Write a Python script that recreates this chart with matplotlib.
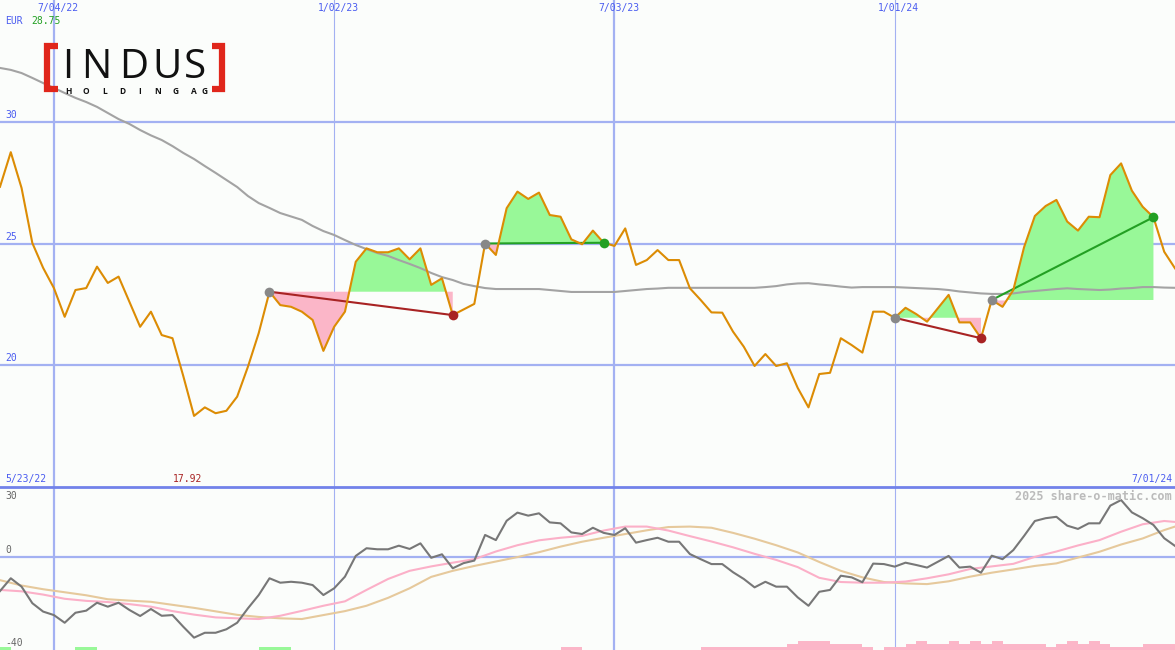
import matplotlib
matplotlib.use('Agg')
import matplotlib.pyplot as plt
import matplotlib.lines as mlines
import numpy as np
import pandas as pd

# ---- data (weekly) ----
start_date = '2022-05-30'
n_weeks = 110

price = [27.33, 28.75, 27.28, 25.02, 24.00, 23.17, 21.99, 23.09, 23.17, 24.05,
         23.38, 23.64, 22.61, 21.58, 22.20, 21.24, 21.11, 19.56, 17.92, 18.27,
         18.03, 18.13, 18.71, 19.94, 21.32, 23.02, 22.47, 22.40, 22.20, 21.86,
         20.59, 21.58, 22.20, 24.25, 24.80, 24.64, 24.64, 24.80, 24.35, 24.80,
         23.30, 23.57, 22.06, 22.29, 22.52, 25.00, 24.53, 26.45, 27.13, 26.83,
         27.09, 26.17, 26.10, 25.17, 24.97, 25.53, 25.03, 24.90, 25.62, 24.12,
         24.32, 24.73, 24.32, 24.32, 23.16, 22.68, 22.17, 22.16, 21.38, 20.76,
         19.97, 20.46, 19.97, 20.08, 19.07, 18.27, 19.64, 19.69, 21.11, 20.83,
         20.52, 22.20, 22.20, 21.95, 22.36, 22.10, 21.79, 22.34, 22.89, 21.76,
         21.76, 21.11, 22.68, 22.40, 23.09, 24.85, 26.13, 26.54, 26.79, 25.90,
         25.53, 26.10, 26.08, 27.81, 28.29, 27.17, 26.51, 26.08, 24.66, 23.98]

ma_long = [32.21, 32.13, 32.00, 31.80, 31.59, 31.39, 31.18, 30.98, 30.81, 30.61,
           30.36, 30.11, 29.91, 29.66, 29.44, 29.25, 29.00, 28.72, 28.47, 28.18,
           27.90, 27.61, 27.32, 26.95, 26.66, 26.46, 26.25, 26.11, 25.97, 25.72,
           25.51, 25.35, 25.14, 24.94, 24.77, 24.61, 24.49, 24.32, 24.16, 23.99,
           23.79, 23.62, 23.50, 23.34, 23.25, 23.17, 23.13, 23.13, 23.13, 23.13,
           23.13, 23.09, 23.05, 23.01, 23.01, 23.01, 23.01, 23.01, 23.05, 23.09,
           23.13, 23.15, 23.18, 23.18, 23.18, 23.18, 23.18, 23.18, 23.18, 23.18,
           23.18, 23.21, 23.25, 23.32, 23.36, 23.37, 23.32, 23.28, 23.23, 23.19,
           23.21, 23.21, 23.21, 23.21, 23.19, 23.17, 23.15, 23.13, 23.09, 23.03,
           22.99, 22.95, 22.93, 22.93, 22.95, 23.01, 23.05, 23.09, 23.13, 23.16,
           23.13, 23.11, 23.09, 23.11, 23.15, 23.17, 23.21, 23.21, 23.19, 23.18]

# trades: entry / exit week index
trade_entry = [25, 45, 83, 92]
trade_exit = [42, 56, 91, 107]

# lower panel oscillator
osc = [-14.7, -9.2, -12.8, -19.9, -23.5, -25.0, -28.3, -24.0, -23.1, -19.7,
       -21.4, -19.7, -22.8, -25.4, -22.4, -25.3, -25.0, -30.0, -34.7, -32.6,
       -32.6, -31.1, -28.3, -22.1, -16.4, -9.2, -11.1, -10.7, -11.1, -12.1,
       -16.4, -13.5, -8.5, 0.4, 3.7, 3.25, 3.25, 4.8, 3.4, 5.8,
       -0.4, 1.1, -4.9, -2.7, -1.6, 9.4, 7.2, 15.5, 19.0, 17.7,
       18.7, 14.8, 14.4, 10.5, 9.8, 12.5, 10.3, 9.4, 12.3, 6.1,
       7.2, 8.2, 6.5, 6.5, 1.2, -1.0, -3.1, -3.1, -6.6, -9.5,
       -13.1, -10.7, -12.8, -12.8, -17.4, -21.0, -15.0, -14.2, -8.1, -8.8,
       -10.9, -2.9, -3.1, -4.2, -2.5, -3.5, -4.6, -2.1, 0.4, -4.6,
       -4.2, -6.8, 0.5, -1.0, 2.9, 9.0, 15.4, 16.6, 17.2, 13.4,
       12.0, 14.4, 14.4, 22.0, 24.4, 19.1, 16.6, 13.7, 8.0, 4.7]

# smoothed oscillator lines, sampled every second week (+ last week)
smooth_weeks = list(range(0, 110, 2)) + [109]
osc_fast = [-14.2, -14.8, -16.2, -18.0, -18.9, -19.4, -20.3, -21.4, -23.3, -24.8,
            -26.0, -26.4, -26.7, -25.3, -23.2, -21.0, -19.1, -14.2, -9.5, -6.0,
            -4.1, -2.5, -1.0, 2.3, 5.0, 7.1, 8.2, 9.0, 11.3, 13.0,
            13.0, 11.3, 8.9, 6.6, 4.1, 1.3, -1.3, -4.4, -9.0, -10.8,
            -11.1, -11.1, -10.6, -9.2, -7.5, -5.2, -4.1, -3.0, 0.0, 2.3,
            4.9, 7.2, 10.8, 14.0, 15.4, 15.0]
osc_slow = [-10.0, -12.3, -13.9, -15.2, -16.5, -18.2, -18.8, -19.3, -20.6, -21.9,
            -23.4, -24.9, -25.8, -26.4, -26.7, -25.0, -23.3, -21.0, -17.6, -13.5,
            -8.6, -6.0, -3.9, -2.0, -0.1, 2.0, 4.4, 6.5, 8.2, 9.8,
            11.4, 12.8, 13.0, 12.5, 10.3, 7.8, 5.0, 1.9, -2.2, -6.0,
            -8.8, -10.8, -11.4, -11.7, -10.5, -8.5, -6.8, -5.4, -3.9, -2.8,
            -0.3, 2.2, 5.3, 7.9, 11.5, 13.0]

# signal bars at the bottom (+ buy strength, - sell strength)
signal = [1, 0, 0, 0, 0, 0, 0, 1, 1, 0,
          0, 0, 0, 0, 0, 0, 0, 0, 0, 0,
          0, 0, 0, 0, 1, 1, 1, 0, 0, 0,
          0, 0, 0, 0, 0, 0, 0, 0, 0, 0,
          0, 0, 0, 0, 0, 0, 0, 0, 0, 0,
          0, 0, -1, -1, 0, 0, 0, 0, 0, 0,
          0, 0, 0, 0, 0, -1, -1, -1, -1, -1,
          -1, -1, -1, -2, -3, -3, -3, -2, -2, -2,
          -1, 0, -1, -1, -2, -3, -2, -2, -3, -2,
          -3, -2, -3, -2, -2, -2, -2, -1, -2, -3,
          -2, -3, -2, -1, -1, -1, -2, -2, -2, -2]

grid_dates = ['2022-07-04', '2023-01-02', '2023-07-03', '2024-01-01']
grid_labels = ['7/04/22', '1/02/23', '7/03/23', '1/01/24']
first_label = '5/23/22'
price_ticks = [30, 25, 20]
osc_ticks = [30, 0, -40]

# ---- styling ----
W, H = 1175, 650
BG = '#fbfdfb'
GRID = '#a3b1f2'
BLUE_TXT = '#4a5cf0'
FONT = 'DejaVu Sans Mono'
FS = 7

dates = pd.date_range(start_date, periods=n_weeks, freq='7D')
price = np.array(price)
week = pd.Timedelta(days=7)

fig = plt.figure(figsize=(W / 100, H / 100), dpi=100, facecolor=BG)
top_h = 487 / H
ax = fig.add_axes([0, 1 - top_h, 1, top_h], facecolor=BG)
ax2 = fig.add_axes([0, 0, 1, 1 - top_h], facecolor=BG)


def px(x, y):
    return x / W, 1 - y / H


for a in (ax, ax2):
    for s in a.spines.values():
        s.set_visible(False)
    a.set_xticks([])
    a.set_yticks([])
    a.set_xlim(dates[0], dates[-1])
    for i, d in enumerate(grid_dates):
        a.axvline(pd.Timestamp(d), color=GRID, lw=1.6 if i % 2 == 0 else 0.8, zorder=1)

ax.set_ylim(15, 35)
ax2.set_ylim(-40, 30)

for v in price_ticks:
    ax.axhline(v, color=GRID, lw=1.6, zorder=1)
    ax.annotate(str(v), xy=(0, v), xycoords=('axes fraction', 'data'),
                xytext=(5, 2), textcoords='offset pixels', ha='left', va='bottom',
                color=BLUE_TXT, fontsize=FS, family=FONT)
# panel separator (drawn in the lower axes so it sits on top of both)
ax2.axhline(30, color='#7282ea', lw=2.0, zorder=5, clip_on=False)
ax2.axhline(0, color=GRID, lw=1.6, zorder=1)

# trades: shaded gain/loss vs entry price, connector and markers
for e, x in zip(trade_entry, trade_exit):
    seg = slice(e, x + 1)
    lvl = price[e]
    ax.fill_between(dates[seg], price[seg], lvl, where=price[seg] >= lvl,
                    interpolate=True, color='#98f898', lw=0, zorder=2)
    ax.fill_between(dates[seg], price[seg], lvl, where=price[seg] <= lvl,
                    interpolate=True, color='#fbb6c8', lw=0, zorder=2)

ax.plot(dates, ma_long, color='#a3a3a3', lw=1.5, zorder=3)

for e, x in zip(trade_entry, trade_exit):
    win = price[x] >= price[e]
    c = '#23a023' if win else '#a82323'
    ax.plot([dates[e], dates[x]], [price[e], price[x]], color=c, lw=1.5, zorder=4)

ax.plot(dates, price, color='#dc8c04', lw=1.5, zorder=5)

for e, x in zip(trade_entry, trade_exit):
    win = price[x] >= price[e]
    ax.plot(dates[e], price[e], 'o', color='#888888', ms=7, mec='none', zorder=6)
    ax.plot(dates[x], price[x], 'o', color='#23a023' if win else '#a82323',
            ms=7, mec='none', zorder=6)

# labels in the upper panel
for d, lab in zip(grid_dates, grid_labels):
    ax.annotate(lab, xy=(pd.Timestamp(d), 1), xycoords=('data', 'axes fraction'),
                xytext=(4, -3), textcoords='offset pixels', ha='center', va='top',
                color=BLUE_TXT, fontsize=FS, family=FONT)
fig.text(*px(5, 21), 'EUR', color=BLUE_TXT, fontsize=FS, family=FONT, va='center')
fig.text(*px(31, 21), f'{price.max():.2f}', color='#22a022', fontsize=FS,
         family=FONT, va='center')
fig.text(*px(5, 479), first_label, color=BLUE_TXT, fontsize=FS, family=FONT,
         va='center')
ax.annotate(f'{price.min():.2f}', xy=(dates[int(price.argmin())], 0),
            xycoords=('data', 'axes fraction'), xytext=(-6, 8),
            textcoords='offset pixels', ha='center', va='center',
            color='#a82323', fontsize=FS, family=FONT)
fig.text(*px(1172, 479), dates[-1].strftime('%-m/%d/%y'), color=BLUE_TXT,
         fontsize=FS, family=FONT, va='center', ha='right')

# logo
red = '#e0261b'
for xs in ([58, 47, 47, 58], [212, 221.7, 221.7, 212]):
    fig.add_artist(mlines.Line2D([v / W for v in xs],
                                 [1 - 46.3 / H, 1 - 46.3 / H, 1 - 88.5 / H, 1 - 88.5 / H],
                                 color=red, lw=4.5, solid_joinstyle='miter',
                                 solid_capstyle='butt'))
for ch, cx in zip('INDUS', [67.8, 96, 133.5, 167.5, 195]):
    fig.text(*px(cx, 78.3), ch, ha='center', va='baseline', fontsize=29,
             family='Open Sans', weight='medium', color='#111111')
for ch, cx in zip('HOLDINGAG', [68.7, 86.3, 104.5, 122, 139.3, 157.8, 176, 194, 205]):
    fig.text(*px(cx, 94), ch, ha='center', va='baseline', fontsize=6,
             family='Open Sans', weight='bold', color='#111111')

# lower panel
ax2.bar(dates, [abs(s) * 1.3 for s in signal], bottom=-40, width=week, align='edge',
        color=['#98f898' if s > 0 else '#fbb6c8' for s in signal], lw=0, zorder=2)
ax2.plot(dates[smooth_weeks], osc_slow, color='#e6c99c', lw=1.5, zorder=3)
ax2.plot(dates[smooth_weeks], osc_fast, color='#fbb0c8', lw=1.5, zorder=3)
ax2.plot(dates, osc, color='#777777', lw=1.5, zorder=4)

ax2.annotate(str(osc_ticks[0]), xy=(0, 1), xycoords='axes fraction', xytext=(5, -4),
             textcoords='offset pixels', ha='left', va='top', color='#666666',
             fontsize=FS, family=FONT)
for v in osc_ticks[1:]:
    ax2.annotate(str(v), xy=(0, v), xycoords=('axes fraction', 'data'),
                 xytext=(5, 2), textcoords='offset pixels', ha='left', va='bottom',
                 color='#666666', fontsize=FS, family=FONT)
fig.text(*px(1172, 496), '2025 share-o-matic.com', ha='right', va='center',
         color='#bbbbbb', fontsize=8.5, family=FONT, weight='bold')

fig.savefig('out.png', dpi=100, facecolor=BG)
